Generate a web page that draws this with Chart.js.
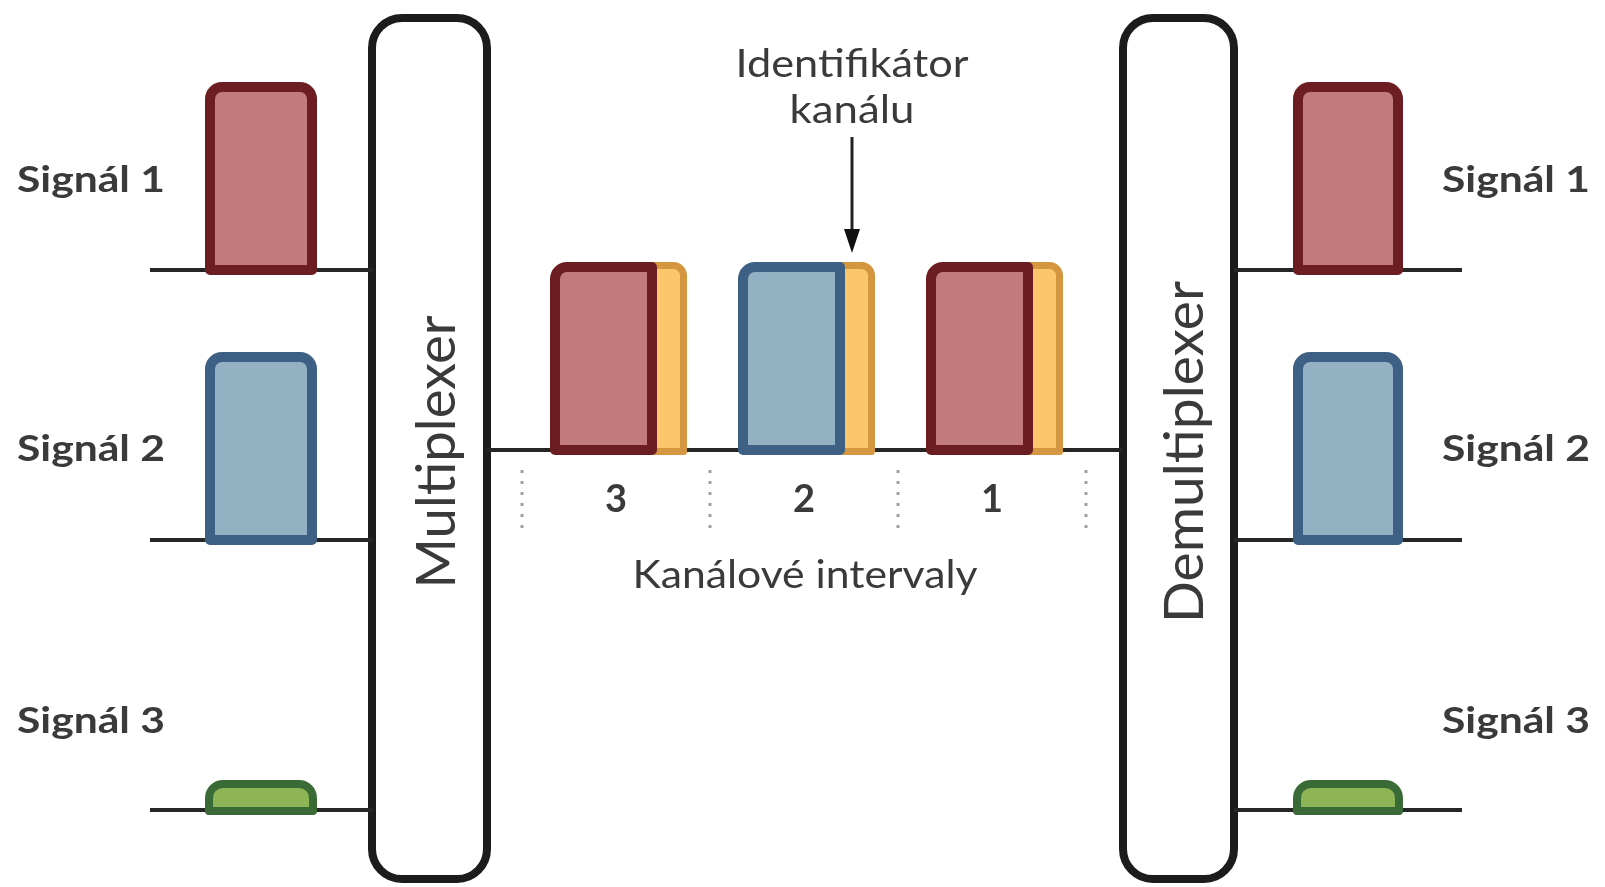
<!DOCTYPE html>
<html>
<head>
<meta charset="utf-8">
<script src="https://cdn.jsdelivr.net/npm/chart.js@4.4.1/dist/chart.umd.min.js"></script>
<style>
  html, body { margin: 0; padding: 0; background: #ffffff; }
  #wrap { width: 1605px; height: 887px; }
</style>
</head>
<body>
<div id="wrap"><canvas id="c" width="1605" height="887"></canvas></div>
<script>
// ---- data ----
const signalNames = ['Signál 1', 'Signál 2', 'Signál 3'];
const signalLevels = [1, 1, 0.16];          // relative pulse amplitude of each signal
const slotLabels = ['3', '2', '1'];          // channel interval labels (left to right)
const slotSignal = [0, 1, 0];                // which signal occupies each interval
const boxLabels = ['Multiplexer', 'Demultiplexer'];
const intervalTitle = 'Kanálové intervaly';
const idLabel = ['Identifikátor', 'kanálu'];

// ---- styles ----
const palette = [
  { fill: '#c27b7c', edge: '#6b1d22' },
  { fill: '#93b1c3', edge: '#3e6084' },
  { fill: '#8db555', edge: '#3a6a35' }
];
const idColor = { fill: '#fcc66a', edge: '#d4963f' };
const textColor = '#3a3a3a';
const lineColor = '#262626';

// ---- layout (diagram units on the x / y scales) ----
const L = {
  laneY: [270, 540, 810], fullPulse: 188,
  leftLine: [150, 373], rightLine: [1234, 1462],
  leftPulse: [205, 317], rightPulse: [1293, 1403],
  boxes: [[372, 487], [1123, 1234]], boxTop: 18, boxBottom: 879, boxRadius: 30, boxLW: 8,
  boxTextX: [455, 1203], boxTextY: 452, boxTextW: [273, 342],
  midY: 450, midLine: [487, 1123],
  slotStart: 522, slotWidth: 188, pulseOffset: 28, dataWidth: 107, idWidth: 30,
  sepTop: 470, sepBottom: 528, slotLabelY: 512,
  titleX: 805, titleY: 588, titleW: 345,
  idX: 852, idY: [77, 123], idW: [233, 125], arrowTop: 137, arrowTip: 253,
  leftLabelX: 17, rightLabelX: 1442, labelW: 148, labelY: [192, 461, 733]
};

// ---- datasets built from the arrays ----
const datasets = [];
function seg(x0, x1, y0, y1, extra) {
  datasets.push(Object.assign({
    type: 'line',
    data: [{ x: x0, y: y0 }, { x: x1, y: y1 }],
    borderColor: lineColor, borderWidth: 4, pointRadius: 0, fill: false, tension: 0
  }, extra || {}));
}
signalNames.forEach((n, i) => {
  seg(L.leftLine[0], L.leftLine[1], L.laneY[i], L.laneY[i]);
  seg(L.rightLine[0], L.rightLine[1], L.laneY[i], L.laneY[i]);
});
seg(L.midLine[0], L.midLine[1], L.midY, L.midY);
for (let k = 0; k <= slotLabels.length; k++) {
  const x = L.slotStart + k * L.slotWidth;
  seg(x, x, L.sepTop, L.sepBottom, { borderColor: '#a0a0a0', borderWidth: 3, borderDash: [3, 8] });
}

function pulse(ctx, x0, x1, yTop, yBase, col, lw, radii) {
  const yb = yBase + 5;
  ctx.save();
  ctx.beginPath();
  ctx.roundRect(x0 + lw / 2, yTop + lw / 2, (x1 - x0) - lw, (yb - yTop) - lw, radii);
  ctx.fillStyle = col.fill;
  ctx.fill();
  ctx.lineWidth = lw;
  ctx.strokeStyle = col.edge;
  ctx.lineJoin = 'round';
  ctx.stroke();
  ctx.restore();
}

function text(ctx, str, x, y, font, align, targetW) {
  ctx.save();
  ctx.font = font;
  ctx.fillStyle = textColor;
  ctx.textBaseline = 'alphabetic';
  ctx.textAlign = align;
  const w = ctx.measureText(str).width;
  let sx = targetW ? targetW / w : 1;
  sx = Math.max(0.75, Math.min(1.3, sx));
  ctx.translate(x, y);
  ctx.scale(sx, 1);
  ctx.fillText(str, 0, 0);
  ctx.restore();
}

const diagram = {
  id: 'diagram',
  beforeDatasetsDraw(chart) {
    const { ctx, scales: { x, y } } = chart;
    L.boxes.forEach(([a, b]) => {
      const X0 = x.getPixelForValue(a), X1 = x.getPixelForValue(b);
      const Y0 = y.getPixelForValue(L.boxTop), Y1 = y.getPixelForValue(L.boxBottom);
      ctx.save();
      ctx.beginPath();
      ctx.roundRect(X0, Y0, X1 - X0, Y1 - Y0, L.boxRadius);
      ctx.fillStyle = '#ffffff';
      ctx.fill();
      ctx.lineWidth = L.boxLW;
      ctx.strokeStyle = '#1c1c1c';
      ctx.stroke();
      ctx.restore();
    });
  },
  afterDatasetsDraw(chart) {
    const { ctx, scales: { x, y } } = chart;
    const px = v => x.getPixelForValue(v);
    const py = v => y.getPixelForValue(v);

    // input and output pulses
    signalNames.forEach((name, i) => {
      const base = L.laneY[i];
      const top = base - signalLevels[i] * L.fullPulse;
      const r = signalLevels[i] < 0.5 ? [14, 14, 0, 0] : [12, 12, 0, 0];
      const lw = signalLevels[i] < 0.5 ? 8 : 10;
      pulse(ctx, px(L.leftPulse[0]), px(L.leftPulse[1]), py(top), py(base), palette[i], lw, r);
      pulse(ctx, px(L.rightPulse[0]), px(L.rightPulse[1]), py(top), py(base), palette[i], lw, r);
      text(ctx, name, px(L.leftLabelX), py(L.labelY[i]), 'bold 37px Lato', 'left', L.labelW);
      text(ctx, name, px(L.rightLabelX), py(L.labelY[i]), 'bold 37px Lato', 'left', L.labelW);
    });

    // multiplexed frame
    slotLabels.forEach((lab, k) => {
      const s = slotSignal[k];
      const x0 = L.slotStart + k * L.slotWidth + L.pulseOffset;
      const x1 = x0 + L.dataWidth;
      const top = L.midY - signalLevels[s] * L.fullPulse;
      pulse(ctx, px(x1 - 12), px(x1 + L.idWidth), py(top), py(L.midY), idColor, 7, [0, 10, 0, 0]);
      pulse(ctx, px(x0), px(x1), py(top), py(L.midY), palette[s], 10, [12, 0, 0, 0]);
      const cx = L.slotStart + (k + 0.5) * L.slotWidth;
      text(ctx, lab, px(cx), py(L.slotLabelY), 'bold 38px Lato', 'center');
    });
    text(ctx, intervalTitle, px(L.titleX), py(L.titleY), '38px Lato', 'center', L.titleW);

    // channel identifier annotation
    idLabel.forEach((t, i) => text(ctx, t, px(L.idX), py(L.idY[i]), '38px Lato', 'center', L.idW[i]));
    ctx.save();
    ctx.strokeStyle = '#222';
    ctx.fillStyle = '#111';
    ctx.lineWidth = 3;
    ctx.beginPath();
    ctx.moveTo(px(L.idX), py(L.arrowTop));
    ctx.lineTo(px(L.idX), py(L.arrowTip - 20));
    ctx.stroke();
    ctx.beginPath();
    ctx.moveTo(px(L.idX) - 8, py(L.arrowTip - 24));
    ctx.lineTo(px(L.idX) + 8, py(L.arrowTip - 24));
    ctx.lineTo(px(L.idX), py(L.arrowTip));
    ctx.closePath();
    ctx.fill();
    ctx.restore();

    // rotated box labels
    boxLabels.forEach((t, i) => {
      ctx.save();
      ctx.font = '54px Lato';
      ctx.fillStyle = textColor;
      ctx.textAlign = 'center';
      ctx.textBaseline = 'alphabetic';
      const w = ctx.measureText(t).width;
      ctx.translate(px(L.boxTextX[i]), py(L.boxTextY));
      ctx.rotate(-Math.PI / 2);
      ctx.scale(Math.max(0.75, Math.min(1.3, L.boxTextW[i] / w)), 1);
      ctx.fillText(t, 0, 0);
      ctx.restore();
    });
  }
};

new Chart(document.getElementById('c'), {
  type: 'line',
  data: { datasets },
  options: {
    responsive: false,
    devicePixelRatio: 1,
    animation: false,
    layout: { padding: 0 },
    plugins: { legend: { display: false }, tooltip: { enabled: false }, title: { display: false } },
    scales: {
      x: { type: 'linear', min: 0, max: 1605, display: false },
      y: { type: 'linear', min: 0, max: 887, reverse: true, display: false }
    }
  },
  plugins: [diagram]
});
</script>
</body>
</html>
